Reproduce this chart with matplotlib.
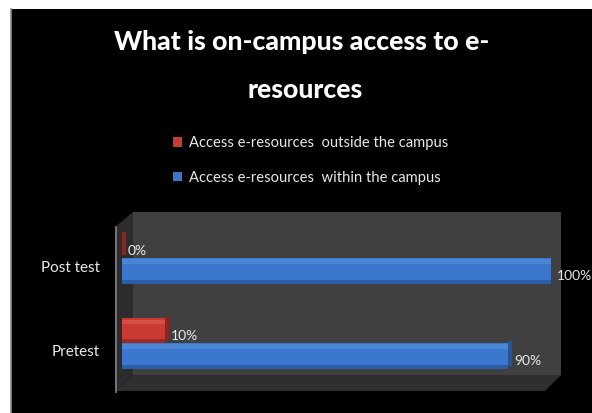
import matplotlib
matplotlib.use("Agg")
import matplotlib.pyplot as plt
from matplotlib.patches import Rectangle, Polygon
from matplotlib.transforms import ScaledTranslation

categories = ["Pretest", "Post test"]
outside_campus = [10, 0]
within_campus = [90, 100]
series_names = ["Access e-resources  outside the campus",
                "Access e-resources  within the campus"]
title_line1 = "What is on-campus access to e-"
title_line2 = "resources"

plt.rcParams['font.family'] = ['Lato', 'DejaVu Sans']

W, H = 592, 413
fig = plt.figure(figsize=(W / 100, H / 100), dpi=100)
fig.patch.set_facecolor("white")

# background / 3D walls in pixel coordinates
bg = fig.add_axes([0, 0, 1, 1])
bg.set_xlim(0, W)
bg.set_ylim(H, 0)
bg.axis("off")
bg.add_patch(Rectangle((11, 9), W - 11, H - 9, facecolor="black", edgecolor="none"))
bg.plot([10.5, 10.5], [9, H], color="#8c8c8c", lw=1.2)
# back wall
bg.add_patch(Rectangle((133, 212), 561 - 133, 375 - 212, facecolor="#404040", edgecolor="none"))
# floor
bg.add_patch(Polygon([(115, 391), (133, 375), (561, 375), (545, 391)], closed=True,
                     facecolor="#2f2f2f", edgecolor="none"))
# side wall
bg.add_patch(Polygon([(115, 227), (133, 212), (133, 375), (115, 391)], closed=True,
                     facecolor="#2c2c2c", edgecolor="none"))
bg.plot([115.5, 115.5], [227, 392], color="#7a7a7a", lw=1.3)

# title
fig.text(302 / W, 1 - 42 / H, title_line1, ha="center", va="center",
         color="white", fontsize=19.2, fontweight="black")
fig.text(305 / W, 1 - 90 / H, title_line2, ha="center", va="center",
         color="white", fontsize=19.2, fontweight="black")

# data axes
ax = fig.add_axes([122 / W, (H - 390) / H, (551 - 122) / W, (390 - 211) / H])
ax.set_facecolor("none")
ax.set_xlim(0, 100)
ax.set_ylim(-0.553, 1.553)
for s in ax.spines.values():
    s.set_visible(False)
ax.set_xticks([])

pos = list(range(len(categories)))
red_main, red_top, red_dark = "#c93a33", "#e0605a", "#8e2420"
blue_main, blue_top, blue_dark = "#3b77cc", "#5a93de", "#24559a"

h_red, h_blue = 0.29, 0.31
y_red = [p + h_red / 2 for p in pos]
y_blue = [p - h_blue / 2 for p in pos]

bars_red = ax.barh(y_red, outside_campus, height=h_red, color=red_main,
                   label=series_names[0], zorder=3)
bars_blue = ax.barh(y_blue, within_campus, height=h_blue, color=blue_main,
                    label=series_names[1], zorder=3)
# 3D-ish shading: top highlight, bottom shadow, end cap
cap = 1.0
for yc, v, h, top, dark in [(y, v, h_red, red_top, red_dark) for y, v in zip(y_red, outside_campus)] + \
        [(y, v, h_blue, blue_top, blue_dark) for y, v in zip(y_blue, within_campus)]:
    ax.barh(yc + h * 0.36, v, height=h * 0.18, color=top, zorder=4, alpha=0.55)
    ax.barh(yc - h * 0.42, v, height=h * 0.16, color=dark, zorder=4, alpha=0.7)
    ax.barh(yc + 0.03, cap, left=v, height=h * 0.94, color=dark, zorder=4)

# value labels
for yc, v in list(zip(y_red, outside_campus)) + list(zip(y_blue, within_campus)):
    ax.annotate(f"{v}%", xy=(v, yc), xytext=(6, -5), textcoords="offset pixels",
                ha="left", va="center", color="#e8e8e8", fontsize=10,
                annotation_clip=False)

ax.set_yticks(pos)
ax.set_yticklabels(categories, color="#e8e8e8", fontsize=11)
ax.tick_params(axis="y", length=0, pad=16)
off = ScaledTranslation(0, -0.08, fig.dpi_scale_trans)
for lab in ax.get_yticklabels():
    lab.set_transform(lab.get_transform() + off)

leg = fig.legend(handles=[bars_red, bars_blue], loc="upper left",
                 bbox_to_anchor=(160 / W, 1 - 123 / H), frameon=False,
                 fontsize=10.6, labelcolor="#e8e8e8", handlelength=0.6,
                 handleheight=0.6, handletextpad=0.5, labelspacing=1.4)

fig.savefig("out.png", dpi=100, facecolor=fig.get_facecolor())
